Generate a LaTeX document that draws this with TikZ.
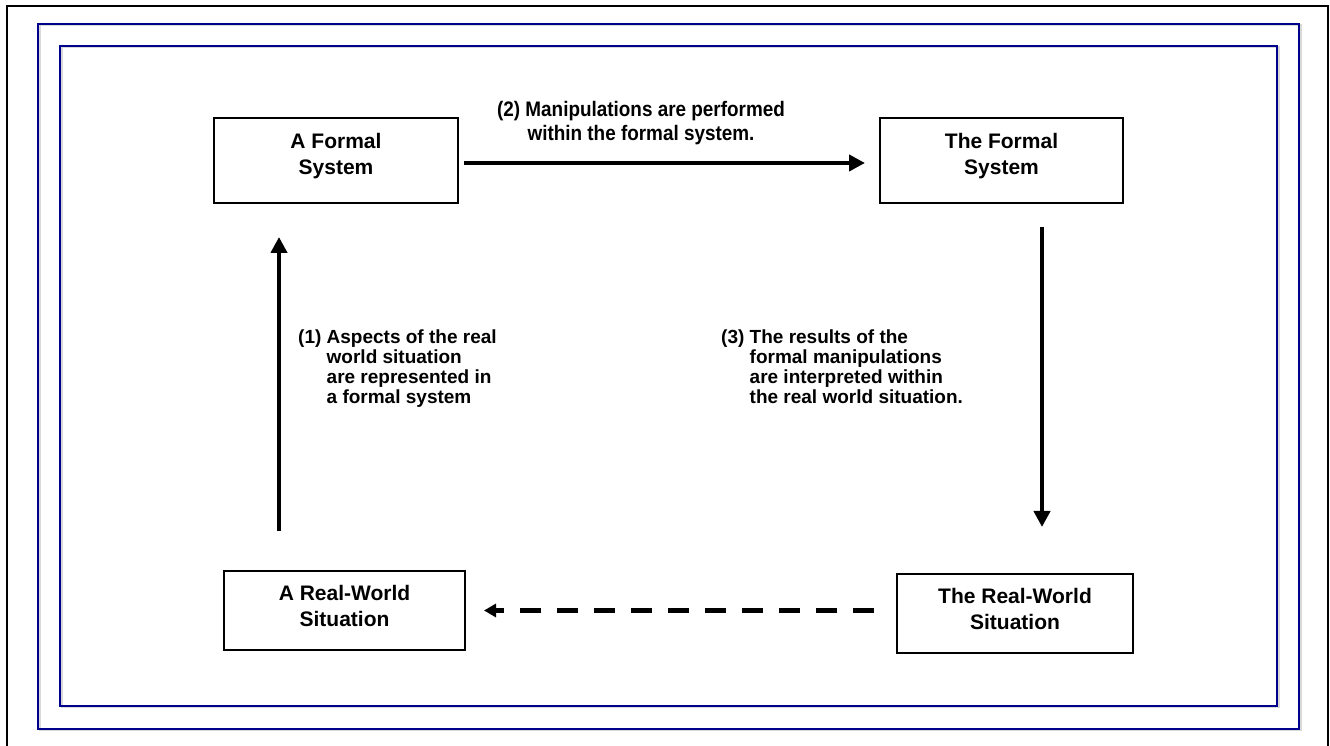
\documentclass[tikz,border=0pt]{standalone}
\usepackage{fontspec}
\setmainfont{Liberation Sans}
\newfontfamily\narrowfont[FakeStretch=0.9]{Liberation Sans}
\usepackage{tikz}
\usetikzlibrary{arrows.meta}
\definecolor{framenavy}{RGB}{0,0,140}
\tikzset{stagebox/.style={draw, line width=2pt, minimum width=#1, align=center,
  font=\fontsize{21}{26}\selectfont\bfseries}}
\tikzset{steptext/.style={align=left, inner sep=0pt,
  font=\fontsize{19}{20}\selectfont\bfseries}}
\tikzset{flow/.style={line width=4.5pt, -{Triangle[length=16pt,width=16pt]}}}
\tikzset{backflow/.style={line width=4.5pt, dash pattern=on 21pt off 16pt,
  -{Triangle[length=12pt,width=13pt]}}}
\tikzset{blueframe/.style={draw=framenavy, line width=2pt}}

\begin{document}
\begin{tikzpicture}[x=1pt, y=1pt]
\useasboundingbox (0,0) rectangle (1330,746);

\draw[line width=2pt] (7,-5) -- (7,740) -- (1328,740) -- (1328,-5);
\draw[black!15, line width=2pt] (39.5,720.5) rectangle (1300.5,15.5);
\draw[blueframe] (38,722) rectangle (1299,17);
\draw[black!15, line width=2pt] (61.5,698.5) rectangle (1278.5,38.5);
\draw[blueframe] (60,700) rectangle (1277,40);

\node[stagebox=244pt, minimum height=85pt, text depth=14pt] (afs) at (336,585.5) {A Formal\\System};
\node[stagebox=243pt, minimum height=85pt, text depth=14pt] (tfs) at (1001.5,585.5) {The Formal\\System};
\node[stagebox=241pt, minimum height=79pt, text depth=10pt] (arw) at (344.5,135.5) {A Real-World\\Situation};
\node[stagebox=236pt, minimum height=79pt, text depth=10pt] (trw) at (1015,132.5) {The Real-World\\Situation};

\node[align=center, inner sep=0pt, font=\fontsize{21}{24}\selectfont\narrowfont\bfseries] (lab2) at (641,623)
  {(2) Manipulations are performed\\within the formal system.};
\node[steptext, anchor=north west] (lab1) at (298,417)
  {\begin{tabular}{@{}l@{ }l@{}}(1) & Aspects of the real\\ & world situation\\ & are represented in\\ & a formal system\end{tabular}};
\node[steptext, anchor=north west] (lab3) at (721,417)
  {\begin{tabular}{@{}l@{ }l@{}}(3) & The results of the\\ & formal manipulations\\ & are interpreted within\\ & the real world situation.\end{tabular}};

\draw[flow, shorten <=5pt, shorten >=14pt] ([yshift=-2.5pt]afs.east) -- ([yshift=-2.5pt]tfs.west);
\draw[flow, shorten <=23pt, shorten >=46pt] ([xshift=40.5pt]tfs.south) -- ([xshift=40.5pt]tfs.south |- trw.north);
\draw[flow, shorten <=39pt, shorten >=33pt] ([xshift=-65.5pt]arw.north) -- ([xshift=-65.5pt]arw.north |- afs.south);
\draw[backflow, shorten <=22pt, shorten >=18pt] (arw.east -| trw.west) -- (arw.east);

\end{tikzpicture}
\end{document}
